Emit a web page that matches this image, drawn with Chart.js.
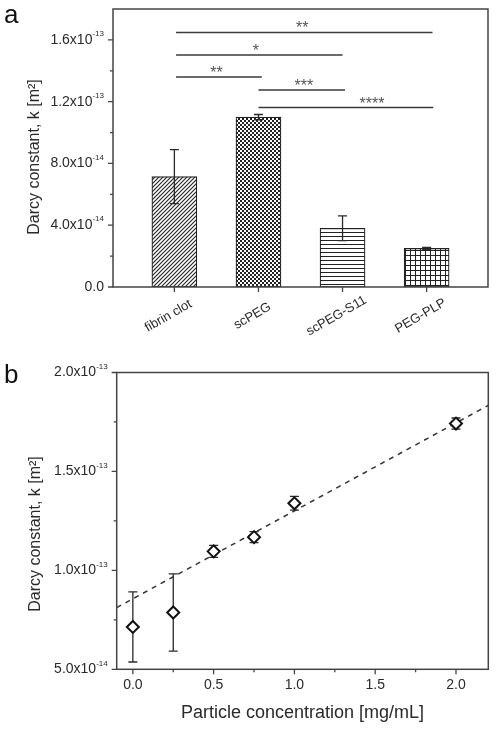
<!DOCTYPE html>
<html>
<head>
<meta charset="utf-8">
<script src="https://cdn.jsdelivr.net/npm/chart.js@4.4.0/dist/chart.umd.min.js"></script>
<style>
  html, body { margin: 0; padding: 0; background: #fff; }
  #barChart { position: absolute; left: 0; top: 0; }
  #concChart { position: absolute; left: 0; top: 360px; }
</style>
</head>
<body>
<canvas id="barChart" width="497" height="360"></canvas>
<canvas id="concChart" width="497" height="370"></canvas>
<script>
// Panel a: Darcy constant per hydrogel
const categories = ['fibrin clot', 'scPEG', 'scPEG-S11', 'PEG-PLP'];
const darcyMeans = [7.15e-14, 1.10e-13, 3.8e-14, 2.5e-14];
const darcyErrors = [1.75e-14, 0.17e-14, 0.8e-14, 0.06e-14];
const patternKinds = ['diagonal', 'checker', 'horizontal', 'grid'];
const yTicksA = [0, 4e-14, 8e-14, 1.2e-13, 1.6e-13];
const yTickBaseA = ['0.0', '4.0x10', '8.0x10', '1.2x10', '1.6x10'];
const yTickExpA = ['', '-14', '-14', '-13', '-13'];
const yMinorA = [2e-14, 6e-14, 1.0e-13, 1.4e-13];

// significance brackets (x in category units, y in data units)
const sigFrom = [1.02, 1.02, 1.02, 2.0, 2.0];
const sigTo = [4.07, 3.0, 2.04, 3.03, 4.08];
const sigLevel = [1.648e-13, 1.502e-13, 1.359e-13, 1.275e-13, 1.162e-13];
const sigLabel = ['**', '*', '**', '***', '****'];
const sigLabelX = [2.52, 1.97, 1.5, 2.54, 3.35];

// Panel b: Darcy constant vs particle concentration
const concentration = [0, 0.25, 0.5, 0.75, 1.0, 2.0];
const darcyByConc = [7.14e-14, 7.87e-14, 1.096e-13, 1.168e-13, 1.339e-13, 1.742e-13];
const darcyByConcErr = [1.77e-14, 1.95e-14, 0.3e-14, 0.28e-14, 0.35e-14, 0.28e-14];
const fitX = [-0.1, 2.2];
const fitY = [8.12e-14, 1.834e-13];
const xTicksB = [0, 0.5, 1.0, 1.5, 2.0];
const xTickLabelsB = ['0.0', '0.5', '1.0', '1.5', '2.0'];
const xMinorB = [0.25, 0.75, 1.25, 1.75];
const yTicksB = [5e-14, 1.0e-13, 1.5e-13, 2.0e-13];
const yTickBaseB = ['5.0x10', '1.0x10', '1.5x10', '2.0x10'];
const yTickExpB = ['-14', '-13', '-13', '-13'];
const yMinorB = [7.5e-14, 1.25e-13, 1.75e-13];

const FONT = '"Liberation Sans", Arial, sans-serif';
const INK = '#2a2a2a';
const AXIS = '#444';

function makePattern(kind) {
    const c = document.createElement('canvas');
    const g = c.getContext('2d');
    c.width = c.height = kind === 'grid' ? 5 : 4;
    g.fillStyle = '#fff';
    g.fillRect(0, 0, c.width, c.height);
    g.fillStyle = '#222';
    g.strokeStyle = '#222';
    if (kind === 'diagonal') {
        g.lineWidth = 1.1;
        g.beginPath();
        g.moveTo(0, 4); g.lineTo(4, 0);
        g.moveTo(-1, 1); g.lineTo(1, -1);
        g.moveTo(3, 5); g.lineTo(5, 3);
        g.stroke();
    } else if (kind === 'checker') {
        g.fillRect(0, 0, 2, 2);
        g.fillRect(2, 2, 2, 2);
    } else if (kind === 'horizontal') {
        g.fillRect(0, 0, 4, 1);
    } else {
        g.fillRect(0, 0, 5, 1);
        g.fillRect(0, 0, 1, 5);
    }
    return g.createPattern(c, 'repeat');
}

function drawFrame(chart) {
    const { ctx, chartArea: a } = chart;
    ctx.save();
    ctx.strokeStyle = AXIS;
    ctx.lineWidth = 1.5;
    ctx.strokeRect(a.left, a.top, a.right - a.left, a.bottom - a.top);
    ctx.restore();
}

function drawTickMarks(chart, axisId, values, len) {
    const { ctx, chartArea: a } = chart;
    const scale = chart.scales[axisId];
    ctx.save();
    ctx.strokeStyle = AXIS;
    ctx.lineWidth = 1.3;
    ctx.beginPath();
    values.forEach(v => {
        const p = scale.getPixelForValue(v);
        if (axisId === 'y') {
            ctx.moveTo(a.left, p); ctx.lineTo(a.left - len, p);
        } else {
            ctx.moveTo(p, a.bottom); ctx.lineTo(p, a.bottom + len);
        }
    });
    ctx.stroke();
    ctx.restore();
}

// y labels of the form 1.6x10^-13
function drawPowerLabels(chart, values, bases, exps) {
    const { ctx, chartArea: a } = chart;
    const scale = chart.scales.y;
    ctx.save();
    ctx.fillStyle = INK;
    ctx.textBaseline = 'middle';
    values.forEach((v, i) => {
        const y = scale.getPixelForValue(v);
        let x = a.left - 9;
        if (exps[i]) {
            ctx.font = '8px ' + FONT;
            ctx.textAlign = 'right';
            ctx.fillText(exps[i], x, y - 6);
            x -= ctx.measureText(exps[i]).width;
        }
        ctx.font = '14px ' + FONT;
        ctx.textAlign = 'right';
        ctx.fillText(bases[i], x, y);
    });
    ctx.restore();
}

function drawYTitle(chart, cx, cy) {
    const { ctx } = chart;
    ctx.save();
    ctx.translate(cx, cy);
    ctx.rotate(-Math.PI / 2);
    ctx.fillStyle = INK;
    ctx.font = '16px ' + FONT;
    ctx.textAlign = 'center';
    ctx.textBaseline = 'middle';
    ctx.fillText('Darcy constant, k [m\u00b2]', 0, 0);
    ctx.restore();
}

function drawLetter(chart, letter, x, y) {
    const { ctx } = chart;
    ctx.save();
    ctx.fillStyle = '#111';
    ctx.font = '26px ' + FONT;
    ctx.textAlign = 'left';
    ctx.textBaseline = 'alphabetic';
    ctx.fillText(letter, x, y);
    ctx.restore();
}

function drawErrorBars(chart, xs, means, errs) {
    const { ctx, scales: { x, y } } = chart;
    ctx.save();
    ctx.strokeStyle = INK;
    ctx.lineWidth = 1.3;
    means.forEach((m, i) => {
        const px = x.getPixelForValue(xs[i]);
        const top = y.getPixelForValue(m + errs[i]);
        const bot = y.getPixelForValue(m - errs[i]);
        ctx.beginPath();
        ctx.moveTo(px, top); ctx.lineTo(px, bot);
        ctx.moveTo(px - 4.5, top); ctx.lineTo(px + 4.5, top);
        ctx.moveTo(px - 4.5, bot); ctx.lineTo(px + 4.5, bot);
        ctx.stroke();
    });
    ctx.restore();
}

const panelA = {
    id: 'panelA',
    afterDatasetsDraw(chart) {
        const { ctx, scales: { x, y } } = chart;
        drawErrorBars(chart, categories.map((c, i) => i + 1), darcyMeans, darcyErrors);

        // significance brackets
        ctx.save();
        ctx.strokeStyle = '#3a3a3a';
        ctx.fillStyle = '#555';
        ctx.lineWidth = 1.5;
        ctx.font = '16px ' + FONT;
        ctx.textAlign = 'center';
        ctx.textBaseline = 'alphabetic';
        sigLevel.forEach((lvl, i) => {
            const py = y.getPixelForValue(lvl);
            ctx.beginPath();
            ctx.moveTo(x.getPixelForValue(sigFrom[i]), py);
            ctx.lineTo(x.getPixelForValue(sigTo[i]), py);
            ctx.stroke();
            ctx.fillText(sigLabel[i], x.getPixelForValue(sigLabelX[i]), py + 1);
        });
        ctx.restore();
    },
    afterDraw(chart) {
        const { ctx, chartArea: a, scales: { x } } = chart;
        drawFrame(chart);
        drawTickMarks(chart, 'y', yTicksA, 5);
        drawTickMarks(chart, 'y', yMinorA, 3);
        drawTickMarks(chart, 'x', categories.map((c, i) => i + 1), 5);
        drawPowerLabels(chart, yTicksA, yTickBaseA, yTickExpA);

        // rotated category labels
        ctx.save();
        ctx.fillStyle = INK;
        ctx.font = '13px ' + FONT;
        ctx.textAlign = 'center';
        ctx.textBaseline = 'middle';
        categories.forEach((c, i) => {
            ctx.save();
            ctx.translate(x.getPixelForValue(i + 1) - 6, a.bottom + 29);
            ctx.rotate(-Math.PI / 6);
            ctx.fillText(c, 0, 0);
            ctx.restore();
        });
        ctx.restore();

        drawYTitle(chart, 35, 157);
        drawLetter(chart, 'a', 4, 23);
    }
};

const panelB = {
    id: 'panelB',
    beforeDatasetsDraw(chart) {
        drawErrorBars(chart, concentration, darcyByConc, darcyByConcErr);
    },
    afterDraw(chart) {
        const { ctx, chartArea: a, scales: { x } } = chart;
        drawFrame(chart);
        drawTickMarks(chart, 'y', yTicksB, 5);
        drawTickMarks(chart, 'y', yMinorB, 3);
        drawTickMarks(chart, 'x', xTicksB, 5);
        drawTickMarks(chart, 'x', xMinorB, 3);
        drawPowerLabels(chart, yTicksB, yTickBaseB, yTickExpB);

        ctx.save();
        ctx.fillStyle = INK;
        ctx.font = '14px ' + FONT;
        ctx.textAlign = 'center';
        ctx.textBaseline = 'middle';
        xTicksB.forEach((v, i) => {
            ctx.fillText(xTickLabelsB[i], x.getPixelForValue(v), a.bottom + 16);
        });
        ctx.font = '18px ' + FONT;
        ctx.fillText('Particle concentration [mg/mL]', (a.left + a.right) / 2, a.bottom + 44);
        ctx.restore();

        drawYTitle(chart, 36, 174);
        drawLetter(chart, 'b', 4, 23);
    }
};

const hiddenAxis = {
    ticks: { display: false },
    grid: { display: false },
    border: { display: false }
};

// Bar chart (panel a)
new Chart(document.getElementById('barChart'), {
    type: 'bar',
    data: {
        datasets: [{
            data: categories.map((c, i) => ({ x: i + 1, y: darcyMeans[i] })),
            backgroundColor: patternKinds.map(makePattern),
            borderColor: '#222',
            borderWidth: 1.2,
            borderSkipped: false,
            barThickness: 45
        }]
    },
    options: {
        responsive: false,
        animation: false,
        layout: { padding: { left: 0, top: 9, right: 9, bottom: 0 } },
        plugins: { legend: { display: false }, tooltip: { enabled: false } },
        scales: {
            x: { ...hiddenAxis, type: 'linear', offset: false, min: 0.27, max: 4.73, afterFit: s => { s.height = 73; } },
            y: { ...hiddenAxis, min: 0, max: 1.8e-13, afterFit: s => { s.width = 113; } }
        }
    },
    plugins: [panelA]
});

// Scatter + linear fit (panel b)
new Chart(document.getElementById('concChart'), {
    type: 'scatter',
    data: {
        datasets: [{
            data: concentration.map((c, i) => ({ x: c, y: darcyByConc[i] })),
            pointStyle: 'rectRot',
            pointRadius: 6,
            pointBackgroundColor: '#fff',
            pointBorderColor: '#111',
            pointBorderWidth: 2
        }, {
            data: fitX.map((v, i) => ({ x: v, y: fitY[i] })),
            showLine: true,
            pointRadius: 0,
            borderColor: '#333',
            borderWidth: 1.5,
            borderDash: [5, 5]
        }]
    },
    options: {
        responsive: false,
        animation: false,
        layout: { padding: { left: 0, top: 12.5, right: 8.7, bottom: 0 } },
        plugins: { legend: { display: false }, tooltip: { enabled: false } },
        scales: {
            x: { ...hiddenAxis, type: 'linear', min: -0.1, max: 2.2, afterFit: s => { s.height = 60.7; } },
            y: { ...hiddenAxis, min: 5e-14, max: 2.0e-13, afterFit: s => { s.width = 116.7; } }
        }
    },
    plugins: [panelB]
});
</script>
</body>
</html>
